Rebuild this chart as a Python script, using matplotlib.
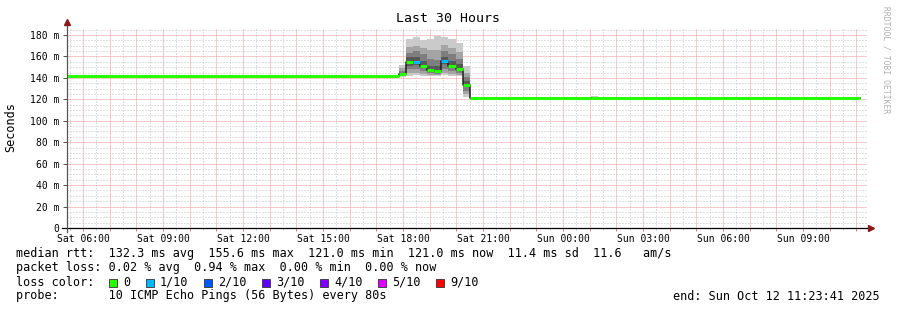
import matplotlib
matplotlib.use('Agg')
import matplotlib.pyplot as plt
import matplotlib.dates as mdates
import matplotlib.ticker as mticker
from matplotlib.patches import Rectangle
import pandas as pd

plt.rcParams['font.family'] = ['DejaVu Sans Mono', 'DejaVu Sans']

# ---------------- data ----------------
title = "Last 30 Hours"
y_label = "Seconds"
watermark = "RRDTOOL / TOBI OETIKER"
view_start = "2025-10-11 05:23:41"
view_end = "2025-10-12 11:23:41"

seg_start = ["2025-10-11 05:23:41", "2025-10-11 17:50:00", "2025-10-11 18:06:00",
             "2025-10-11 18:22:00", "2025-10-11 18:38:00", "2025-10-11 18:54:00",
             "2025-10-11 19:10:00", "2025-10-11 19:26:00", "2025-10-11 19:42:00",
             "2025-10-11 19:58:00", "2025-10-11 20:14:00", "2025-10-11 20:30:00",
             "2025-10-12 01:02:00", "2025-10-12 01:18:00"]
data_end = "2025-10-12 11:08:00"

median_ms = [142.0, 143.6, 155.0, 154.5, 151.4, 147.4, 146.8, 155.4,
             151.4, 148.5, 133.4, 121.0, 121.3, 121.0]
loss_count = [0, 0, 0, 1, 0, 0, 0, 1, 0, 0, 0, 0, 0, 0]

# 10 sorted ping times per segment (ms)
ping_ms = [
    [142.0] * 10,
    [141.0, 141.8, 142.3, 142.8, 143.3, 143.9, 144.8, 146.5, 149.0, 152.3],
    [142.0, 144.5, 148.0, 151.5, 154.3, 155.7, 159.0, 163.0, 168.5, 176.5],
    [142.5, 145.0, 148.5, 152.0, 153.8, 155.2, 159.5, 165.0, 170.0, 178.0],
    [142.0, 144.0, 146.5, 149.5, 150.8, 152.0, 155.5, 162.0, 168.0, 175.5],
    [141.8, 143.0, 144.5, 145.8, 147.0, 147.8, 151.0, 158.0, 166.0, 176.5],
    [141.5, 142.5, 143.5, 145.3, 146.4, 147.2, 151.0, 157.0, 166.0, 179.5],
    [142.5, 145.0, 148.5, 152.5, 154.8, 156.0, 159.5, 165.5, 170.5, 178.0],
    [142.0, 144.0, 146.0, 149.0, 150.8, 152.0, 156.0, 162.0, 168.0, 176.0],
    [141.5, 143.0, 144.5, 146.8, 148.0, 149.0, 152.5, 158.0, 164.0, 172.5],
    [122.5, 125.0, 128.0, 131.5, 133.0, 133.8, 137.0, 140.5, 145.0, 151.5],
    [121.0] * 10,
    [120.8, 120.9, 121.0, 121.1, 121.2, 121.4, 121.6, 121.9, 122.3, 123.0],
    [121.0] * 10,
]

loss_levels = [0, 1, 2, 3, 4, 5, 9]
loss_labels = ["0", "1/10", "2/10", "3/10", "4/10", "5/10", "9/10"]
loss_colors = ["#26ff00", "#00b8ff", "#0059ff", "#5e00ff", "#7e00ff", "#dd00ff", "#ff0000"]
smoke_colors = ["#cacaca", "#a4a4a4", "#7e7e7e", "#585858", "#323232"]

y_ticks = [0, 20, 40, 60, 80, 100, 120, 140, 160, 180]
y_tick_labels = ["0", "20 m", "40 m", "60 m", "80 m", "100 m", "120 m",
                 "140 m", "160 m", "180 m"]
y_max = 186.5

legend_rows = [
    "median rtt:  132.3 ms avg  155.6 ms max  121.0 ms min  121.0 ms now  11.4 ms sd  11.6   am/s",
    "packet loss: 0.02 % avg  0.94 % max  0.00 % min  0.00 % now",
    "loss color:",
    "probe:       10 ICMP Echo Pings (56 Bytes) every 80s",
]
end_text = "end: Sun Oct 12 11:23:41 2025"

# ---------------- figure ----------------
W, H = 897, 310
fig = plt.figure(figsize=(W / 100, H / 100), dpi=100)
fig.patch.set_facecolor('white')
ax = fig.add_axes([67 / W, 82 / H, 800 / W, 200 / H])
ax.set_facecolor('white')

starts = pd.to_datetime(seg_start, format='mixed')
ends = list(starts[1:]) + [pd.Timestamp(data_end)]
x0 = mdates.date2num(starts.to_pydatetime())
x1 = mdates.date2num(pd.DatetimeIndex(ends).to_pydatetime())
widths = x1 - x0

# smoke
for i in range(5):
    lo = [p[i] for p in ping_ms]
    hi = [p[9 - i] for p in ping_ms]
    heights = [h - l for h, l in zip(hi, lo)]
    ax.bar(x0, heights, width=widths, bottom=lo, align='edge',
           color=smoke_colors[i], linewidth=0, zorder=3)

# median: dark step line + loss coloured segments
edges = list(x0) + [x1[-1]]
ax.step(edges, median_ms + [median_ms[-1]], where='post', color='#202020',
        lw=1.1, zorder=4)
seg_colors = [loss_colors[loss_levels.index(l)] for l in loss_count]
ax.hlines(median_ms, x0, x1, colors=seg_colors, lw=2.2, zorder=5,
          capstyle='butt')

ax.set_xlim(mdates.date2num(pd.Timestamp(view_start)),
            mdates.date2num(pd.Timestamp(view_end)))
ax.set_ylim(0, y_max)

# grid
ax.xaxis.set_major_locator(mdates.HourLocator(interval=1))
ax.xaxis.set_minor_locator(mdates.MinuteLocator(byminute=[30]))

def xfmt(v, pos):
    d = mdates.num2date(v)
    return d.strftime('%a %H:%M') if d.hour % 3 == 0 else ''
ax.xaxis.set_major_formatter(mticker.FuncFormatter(xfmt))
ax.yaxis.set_major_locator(mticker.FixedLocator(y_ticks))
ax.yaxis.set_major_formatter(mticker.FixedFormatter(y_tick_labels))
ax.yaxis.set_minor_locator(mticker.MultipleLocator(5))

ax.grid(which='minor', color='#c2c2c2', linestyle=(0, (1, 2)), lw=0.72,
        zorder=0)
ax.grid(which='major', color='#f29494', linestyle=(0, (1, 1)), lw=0.72,
        zorder=1)
ax.set_axisbelow(True)

ax.tick_params(axis='x', which='major', length=2.2, color='#e08080', width=0.72,
               labelsize=7, pad=2)
ax.tick_params(axis='x', which='minor', length=1.5, color='#bbbbbb', width=0.72)
ax.tick_params(axis='y', which='major', length=2.9, color='#555555', width=0.72,
               labelsize=7, pad=2.5)
ax.tick_params(axis='y', which='minor', length=0)

for s in ax.spines.values():
    s.set_visible(False)

# axes lines and arrows
ax.plot([-0.006, 1.004], [0, 0], transform=ax.transAxes, color='black',
        lw=0.9, clip_on=False, zorder=6)
ax.plot([0, 0], [-0.02, 1.03], transform=ax.transAxes, color='#555555',
        lw=0.9, clip_on=False, zorder=6)
ax.plot([1.005], [0], transform=ax.transAxes, marker='>', color='#8b1a1a',
        markersize=4, clip_on=False, zorder=7, linestyle='none')
ax.plot([0], [1.03], transform=ax.transAxes, marker='^', color='#8b1a1a',
        markersize=4, clip_on=False, zorder=7, linestyle='none')

# texts
def fx(px):
    return px / W

def fy(py):
    return 1 - py / H

fig.text(fx(448), fy(19), title, ha='center', va='center', fontsize=9.5)
fig.text(fx(11), fy(127), y_label, ha='center', va='center', rotation=90,
         fontsize=8.5)
fig.text(fx(886), fy(60), watermark, ha='center', va='center', rotation=270,
         fontsize=5.8, color='#b0b0b0')

row_y = [254, 268, 282, 296]
for txt, yy in zip(legend_rows, row_y):
    fig.text(fx(16), fy(yy), txt, ha='left', va='center', fontsize=8.5)
fig.text(fx(880), fy(296), end_text, ha='right', va='center', fontsize=8.5)

sq_x = [109, 146, 204, 262, 320, 378, 436]
lab_x = [123, 160, 218, 276, 334, 392, 450]
for c, lab, sx, lx in zip(loss_colors, loss_labels, sq_x, lab_x):
    fig.patches.append(Rectangle((fx(sx), fy(286.5)), 7.5 / W, 8 / H,
                                 transform=fig.transFigure, facecolor=c,
                                 edgecolor='#333333', lw=0.6))
    fig.text(fx(lx), fy(282), lab, ha='left', va='center', fontsize=8.5)

fig.savefig('out.png', dpi=100, facecolor='white')
